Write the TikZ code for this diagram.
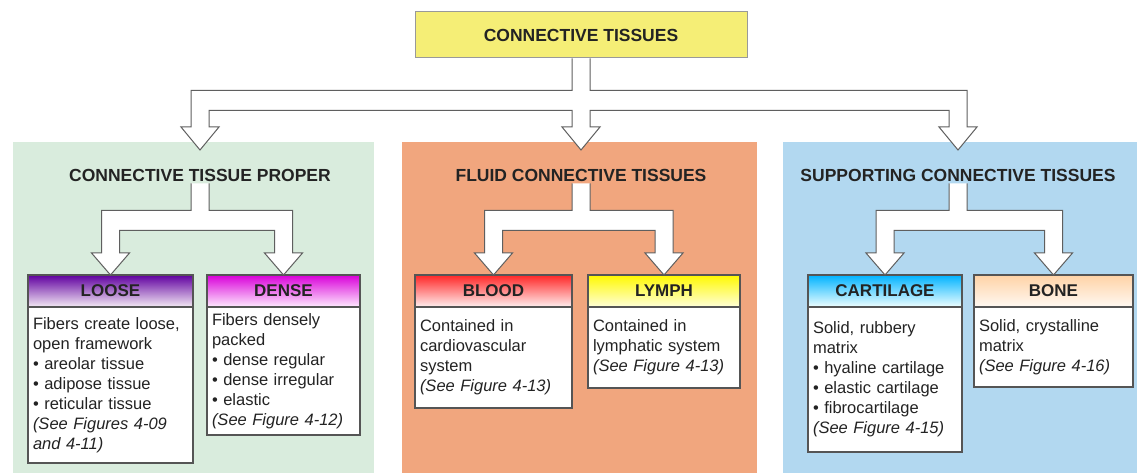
\documentclass[tikz,border=0pt]{standalone}
\usepackage{fontspec}
\setmainfont{Liberation Sans}
\usetikzlibrary{positioning,calc}

\definecolor{tissueyellow}{RGB}{245,238,118}
\definecolor{propergreen}{RGB}{217,236,221}
\definecolor{fluidorange}{RGB}{241,166,126}
\definecolor{supportblue}{RGB}{178,216,240}
\definecolor{boxline}{RGB}{85,85,85}
\definecolor{arrowline}{RGB}{95,95,95}
\definecolor{inkgray}{RGB}{35,35,35}

\tikzset{
  panel/.style={anchor=north west, inner sep=0pt, outer sep=0pt, minimum height=331},
  heading/.style={font=\fontsize{17.5}{20}\selectfont\bfseries, text=inkgray, inner sep=2pt},
  fork/.style={draw=arrowline, fill=white, line width=1pt, line join=miter},
  titlebox/.style={draw=boxline, line width=1.2pt, anchor=north west, outer sep=0pt,
    minimum height=32, font=\fontsize{17}{20}\selectfont\bfseries, text=inkgray},
  bodybox/.style={draw=boxline, fill=white, line width=1.2pt, outer sep=0pt,
    inner xsep=5pt, inner ysep=4pt, align=left,
    font=\fontsize{16.5}{20}\selectfont, text=inkgray}
}

% block arrow that splits in two: source, left tip, right tip, drop to the bar
\newcommand{\forktwo}[4]{%
  \draw[fork] let \p1=(#1), \p2=(#2), \p3=(#3) in
    (\x1-9pt,\y1) -- (\x1-9pt,\y1-#4) -- (\x2-9pt,\y1-#4) -- (\x2-9pt,\y2+22pt)
    -- (\x2-19pt,\y2+22pt) -- (\x2,\y2) -- (\x2+19pt,\y2+22pt) -- (\x2+9pt,\y2+22pt)
    -- (\x2+9pt,\y1-#4-20pt) -- (\x3-9pt,\y1-#4-20pt) -- (\x3-9pt,\y3+22pt)
    -- (\x3-19pt,\y3+22pt) -- (\x3,\y3) -- (\x3+19pt,\y3+22pt) -- (\x3+9pt,\y3+22pt)
    -- (\x3+9pt,\y1-#4) -- (\x1+9pt,\y1-#4) -- (\x1+9pt,\y1);}

% same, split in three
\newcommand{\forkthree}[5]{%
  \draw[fork] let \p1=(#1), \p2=(#2), \p3=(#3), \p4=(#4) in
    (\x1-9pt,\y1) -- (\x1-9pt,\y1-#5) -- (\x2-9pt,\y1-#5) -- (\x2-9pt,\y2+23pt)
    -- (\x2-19pt,\y2+23pt) -- (\x2,\y2) -- (\x2+19pt,\y2+23pt) -- (\x2+9pt,\y2+23pt)
    -- (\x2+9pt,\y1-#5-20pt) -- (\x3-9pt,\y1-#5-20pt) -- (\x3-9pt,\y3+23pt)
    -- (\x3-19pt,\y3+23pt) -- (\x3,\y3) -- (\x3+19pt,\y3+23pt) -- (\x3+9pt,\y3+23pt)
    -- (\x3+9pt,\y1-#5-20pt) -- (\x4-9pt,\y1-#5-20pt) -- (\x4-9pt,\y4+23pt)
    -- (\x4-19pt,\y4+23pt) -- (\x4,\y4) -- (\x4+19pt,\y4+23pt) -- (\x4+9pt,\y4+23pt)
    -- (\x4+9pt,\y1-#5) -- (\x1+9pt,\y1-#5) -- (\x1+9pt,\y1);}

\begin{document}
\begin{tikzpicture}[x=1pt, y=-1pt]

    \useasboundingbox (0,0) rectangle (1141,473);
    \fill[white] (0,0) rectangle (1141,473);

    % top box
    \node[draw=black!40, fill=tissueyellow, line width=1pt, minimum width=332, minimum height=46,
          font=\fontsize{17.5}{20}\selectfont\bfseries, text=inkgray] (ct) at (581,35) {CONNECTIVE TISSUES};

    % the three coloured panels
    \node[panel, fill=propergreen, minimum width=361] (proper) at (13,142) {};
    \node[panel, fill=fluidorange, minimum width=355] (fluid) at (402,142) {};
    \node[panel, fill=supportblue, minimum width=354] (support) at (783,142) {};

    \node[heading] (properT) at (200,175) {CONNECTIVE TISSUE PROPER};
    \node[heading] (fluidT) at (581,175) {FLUID CONNECTIVE TISSUES};
    \node[heading] (supportT) at (958,175) {SUPPORTING CONNECTIVE TISSUES};

    % tips of the big arrow
    \coordinate (tipA) at ($(properT |- proper.north)+(0,8)$);
    \coordinate (tipB) at ($(ct.south |- fluid.north)+(0,8)$);
    \coordinate (tipC) at ($(supportT |- support.north)+(0,8)$);
    \forkthree{ct.south}{tipA}{tipB}{tipC}{32pt}

    % proper: loose and dense
    \node[titlebox, minimum width=165, top color=violet!75!blue, bottom color=violet!8] (loose) at (28,275) {LOOSE};
    \node[titlebox, minimum width=153, top color=magenta!85!black, bottom color=magenta!8] (dense) at (207,275) {DENSE};
    \forktwo{properT.south}{loose.north}{dense.north}{27pt}

    \node[bodybox, text width=155, minimum height=156, below=0pt of loose] (looseB)
      {Fibers create loose,\\ open framework\\ • areolar tissue\\ • adipose tissue\\ • reticular tissue\\
       \textit{(See Figures 4-09}\\ \textit{and 4-11)}};
    \node[bodybox, text width=143, minimum height=128, below=0pt of dense] (denseB)
      {Fibers densely\\ packed\\ • dense regular\\ • dense irregular\\ • elastic\\ \textit{(See Figure 4-12)}};

    % fluid: blood and lymph
    \node[titlebox, minimum width=157, top color=red!85, bottom color=red!6] (blood) at (415,275) {BLOOD};
    \node[titlebox, minimum width=152, top color=yellow!95!orange, bottom color=yellow!15] (lymph) at (588,275) {LYMPH};
    \forktwo{fluidT.south}{blood.north}{lymph.north}{27pt}

    \node[bodybox, text width=147, minimum height=101, below=0pt of blood] (bloodB)
      {Contained in\\ cardiovascular\\ system\\ \textit{(See Figure 4-13)}};
    \node[bodybox, text width=142, minimum height=81, below=0pt of lymph] (lymphB)
      {Contained in\\ lymphatic system\\ \textit{(See Figure 4-13)}};

    % supporting: cartilage and bone
    \node[titlebox, minimum width=154, top color=cyan!70!blue, bottom color=cyan!6] (cartilage) at (808,275) {CARTILAGE};
    \node[titlebox, minimum width=159, top color=orange!35, bottom color=orange!5] (bone) at (974,275) {BONE};
    \forktwo{supportT.south}{cartilage.north}{bone.north}{27pt}

    \node[bodybox, text width=144, minimum height=145, below=0pt of cartilage] (cartilageB)
      {Solid, rubbery\\ matrix\\ • hyaline cartilage\\ • elastic cartilage\\ • fibrocartilage\\ \textit{(See Figure 4-15)}};
    \node[bodybox, text width=149, minimum height=80, below=0pt of bone] (boneB)
      {Solid, crystalline\\ matrix\\ \textit{(See Figure 4-16)}};

\end{tikzpicture}
\end{document}
